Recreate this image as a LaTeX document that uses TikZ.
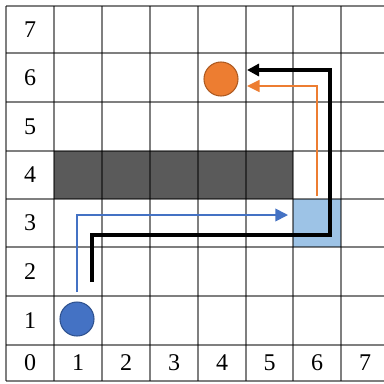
\documentclass[tikz,border=0pt]{standalone}
\usepackage{fontspec}
\setmainfont{Liberation Serif}
\usetikzlibrary{arrows.meta}
\definecolor{obstc}{HTML}{5A5A5A}
\definecolor{goalc}{HTML}{9DC3E6}
\definecolor{bluec}{HTML}{4472C4}
\definecolor{blueb}{HTML}{2F528F}
\definecolor{orangec}{HTML}{ED7D31}
\definecolor{orangeb}{HTML}{AE5A21}
\begin{document}
\begin{tikzpicture}[x=0.75pt,y=-0.75pt,
  gridline/.style={draw=black, draw opacity=0.5, line width=0.9pt},
  lab/.style={font=\fontsize{18}{20}\selectfont, inner sep=0pt},
  agent/.style={circle, minimum size=25.5pt, inner sep=0pt, line width=0.8pt},
  pathblack/.style={draw=black, line width=2.3pt, line join=miter, -{Triangle[length=9pt,width=9pt]}},
  pathblue/.style={draw=bluec, line width=1.3pt, line join=miter, -{Triangle[length=9.5pt,width=9.5pt]}},
  pathorange/.style={draw=orangec, line width=1.3pt, line join=miter, -{Triangle[length=9.5pt,width=9pt]}}
]
\useasboundingbox (0,0) rectangle (384,383);
\fill[white] (0,0) rectangle (384,383);
% obstacle and goal cell
\fill[obstc] (54,151) rectangle (293,199);
\fill[goalc] (293,199) rectangle (341,247);
% grid
\foreach \x in {6,54,102,150,198,246,293,341} \draw[gridline] (\x,6) -- (\x,381);
\foreach \y in {6,53,102,151,199,247,296,345,381} \draw[gridline] (6,\y) -- (384,\y);
% row labels
\node[lab] (r7) at (30,29.5) {7};
\node[lab] (r6) at (30,77.5) {6};
\node[lab] (r5) at (30,126.5) {5};
\node[lab] (r4) at (30,175) {4};
\node[lab] (r3) at (30,223) {3};
\node[lab] (r2) at (30,271.5) {2};
\node[lab] (r1) at (30,320.5) {1};
\node[lab] (r0) at (30,363) {0};
% column labels
\node[lab] (c1) at (78,363) {1};
\node[lab] (c2) at (126,363) {2};
\node[lab] (c3) at (174,363) {3};
\node[lab] (c4) at (222,363) {4};
\node[lab] (c5) at (269.5,363) {5};
\node[lab] (c6) at (317,363) {6};
\node[lab] (c7) at (365,363) {7};
% agents
\node[agent, fill=bluec, draw=blueb] (start) at (77,319) {};
\node[agent, fill=orangec, draw=orangeb] (target) at (221,79) {};
% path coordinates
\coordinate (b0) at (92,282);
\coordinate (b1) at (92,235);
\coordinate (b2) at (330,235);
\coordinate (b3) at (330,70);
\coordinate (b4) at (247,70);
\coordinate (u0) at (77,292);
\coordinate (u1) at (77,215);
\coordinate (u2) at (288,215);
\coordinate (o0) at (317,196);
\coordinate (o1) at (317,86);
\coordinate (o2) at (247,86);
\draw[pathblue] (u0) -- (u1) -- (u2);
\draw[pathorange] (o0) -- (o1) -- (o2);
\draw[pathblack] (b0) -- (b1) -- (b2) -- (b3) -- (b4);
\end{tikzpicture}
\end{document}
